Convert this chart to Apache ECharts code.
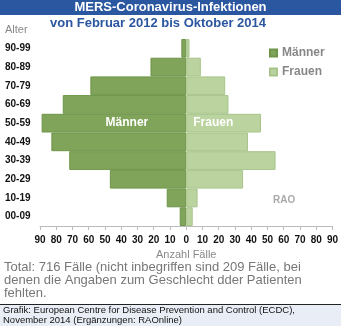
<!DOCTYPE html>
<html><head><meta charset="utf-8">
<script src="https://cdn.jsdelivr.net/npm/echarts@6/dist/echarts.min.js"></script>
<style>html,body{margin:0;padding:0;background:#fff}#c{width:341px;height:326px}</style>
</head><body><div id="c"></div>
<script>
var categories = ['00-09','10-19','20-29','30-39','40-49','50-59','60-69','70-79','80-89','90-99'];
var maenner = [4, 12, 47, 72, 83, 89, 76, 59, 22, 3];
var frauen  = [4, 7, 35, 55, 38, 46, 26, 24, 9, 2];
var xTicks = [-90,-80,-70,-60,-50,-40,-30,-20,-10,0,10,20,30,40,50,60,70,80,90];

var chart = echarts.init(document.getElementById('c'), null, {renderer:'canvas'});
var menData = maenner.map(function(v,i){
  var d = {value:-v};
  if (categories[i]==='50-59') d.label = {show:true, position:'insideRight', distance:38, formatter:'Männer', color:'#fff', fontWeight:'bold', fontSize:12, fontFamily:'Liberation Sans'};
  return d;
});
var womenData = frauen.map(function(v,i){
  var d = {value:v};
  if (categories[i]==='50-59') d.label = {show:true, position:'insideLeft', distance:7, formatter:'Frauen', color:'#fff', fontWeight:'bold', fontSize:12, fontFamily:'Liberation Sans'};
  return d;
});
chart.setOption({
  animation:false,
  grid:{left:40, right:7, top:39, bottom:100, containLabel:false},
  legend:{
    orient:'vertical', left:264, top:42, itemWidth:7, itemHeight:7, itemGap:7,
    icon:'rect',
    textStyle:{color:'#888', fontWeight:'bold', fontSize:12, fontFamily:'Liberation Sans'},
    data:['Männer','Frauen']
  },
  xAxis:{
    type:'value', min:-90, max:90, interval:10,
    axisLine:{show:true, lineStyle:{color:'#bbb'}},
    axisTick:{show:true, length:4, lineStyle:{color:'#bbb'}},
    splitLine:{show:false},
    axisLabel:{formatter:function(v){return Math.abs(v);}, color:'#111', fontWeight:'bold', fontSize:10, fontFamily:'Liberation Sans', margin:9},
    name:'Anzahl Fälle', nameLocation:'middle', nameGap:22,
    nameTextStyle:{color:'#888', fontSize:11, fontFamily:'Liberation Sans'}
  },
  yAxis:{
    type:'category', data:categories,
    axisLine:{show:false}, axisTick:{show:false},
    axisLabel:{color:'#111', fontWeight:'bold', fontSize:10, fontFamily:'Liberation Sans', align:'left', margin:35}
  },
  series:[
    {name:'Männer', type:'bar', data:menData, barCategoryGap:0, barGap:'-100%',
     itemStyle:{color:'#80a55a', borderColor:'#6e9449', borderWidth:1}},
    {name:'Frauen', type:'bar', data:womenData, barCategoryGap:0, barGap:'-100%',
     itemStyle:{color:'#bbd39e', borderColor:'#a8c48a', borderWidth:1}}
  ],
  graphic:[
    {type:'rect', left:0, top:0, shape:{width:341, height:15}, style:{fill:'#2b56a0'}},
    {type:'text', left:'center', top:1, style:{text:'MERS-Coronavirus-Infektionen', fill:'#fff', font:'bold 13px "Liberation Sans"'}},
    {type:'text', left:50, top:17, style:{text:'von Februar 2012 bis Oktober 2014', fill:'#2b56a0', font:'bold 13px "Liberation Sans"'}},
    {type:'text', left:5, top:24, style:{text:'Alter', fill:'#888', font:'11px "Liberation Sans"'}},
    {type:'text', left:273, top:195, style:{text:'RAO', fill:'#aaa', font:'bold 10px "Liberation Sans"'}},
    {type:'text', left:4, top:261, style:{text:'Total: 716 Fälle (nicht inbegriffen sind 209 Fälle, bei\ndenen die Angaben zum Geschlecht dder Patienten\nfehlten.', fill:'#777', font:'13px "Liberation Sans"', lineHeight:13}},
    {type:'rect', left:0, top:305, shape:{width:341, height:21}, style:{fill:'#e9eef6'}},
    {type:'rect', left:0, top:304, shape:{width:341, height:1}, style:{fill:'#222'}},
    {type:'text', left:3, top:305.5, style:{text:'Grafik: European Centre for Disease Prevention and Control (ECDC),\nNovember 2014 (Ergänzungen: RAOnline)', fill:'#111', font:'9.5px "Liberation Sans"', lineHeight:9.5}}
  ]
});
</script></body></html>
